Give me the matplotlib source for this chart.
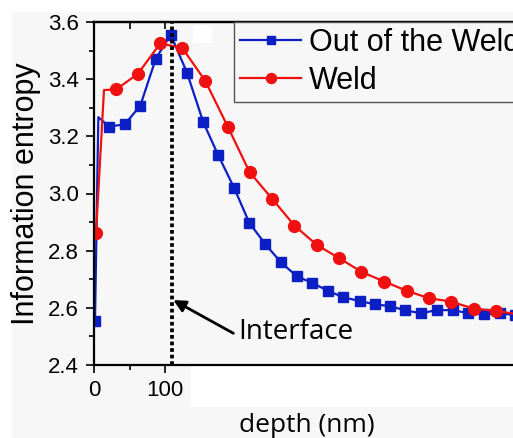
import numpy as np
import matplotlib.pyplot as plt
from matplotlib.patches import Rectangle
from matplotlib.ticker import FixedLocator

plt.rcParams["font.family"] = ["Liberation Sans", "DejaVu Sans"]

# Data (depth in nm, entropy)
depth_out = [1, 5.7, 21, 43, 65, 87, 108, 131, 154, 175, 198, 219, 242, 264, 286,
             308, 331, 352, 375, 397, 418, 440, 462, 484, 507, 529, 551, 573, 595]
entropy_out = [2.555, 3.267, 3.234, 3.242, 3.307, 3.472, 3.556, 3.423, 3.250, 3.135,
               3.018, 2.898, 2.822, 2.759, 2.711, 2.687, 2.659, 2.637, 2.624, 2.612,
               2.606, 2.591, 2.581, 2.592, 2.592, 2.581, 2.577, 2.581, 2.575]

depth_weld = [2.4, 13.7, 30.7, 61.4, 93.2, 124.5, 156.9, 188.7, 219.5, 251.6, 282.9,
              314.6, 346.1, 377.7, 409.8, 441.6, 472.7, 504.1, 536.6, 568.2, 600]
entropy_weld = [2.861, 3.362, 3.364, 3.418, 3.525, 3.509, 3.394, 3.234, 3.075, 2.981,
                2.888, 2.820, 2.774, 2.726, 2.692, 2.660, 2.634, 2.622, 2.597, 2.589,
                2.577]

interface_depth = 109.5
arrow_head = (111.7, 2.627)
arrow_tail = (196.6, 2.511)

labels = ["Out of the Weld", "Weld"]
x_ticks = [0, 100]
y_ticks = [2.4, 2.6, 2.8, 3.0, 3.2, 3.4, 3.6]

BLUE = "#0b1fc4"
RED = "#f01010"
BG = "#f7f7f7"

W, H = 513, 438
fig = plt.figure(figsize=(W / 100, H / 100), dpi=100)
fig.patch.set_facecolor("white")

# grey backdrop of the screenshot, with the white patches on it
fig.patches.append(Rectangle((11.7 / W, 0), 1, (H - 11.7) / H, transform=fig.transFigure,
                             facecolor=BG, edgecolor="none", zorder=-2))
fig.patches.append(Rectangle((191 / W, (H - 407) / H), 1, 42 / H, transform=fig.transFigure,
                             facecolor="white", edgecolor="none", zorder=-1))

left, right, top, bottom = 94.3, 513, 22, 365
ax = fig.add_axes([left / W, (H - bottom) / H, (right - left) / W, (bottom - top) / H])
ax.set_facecolor(BG)
ax.set_zorder(1)

ax.plot(depth_out, entropy_out, color=BLUE, lw=1.6, marker="s", ms=7.5,
        markevery=[0] + list(range(2, len(depth_out))), label=labels[0])
ax.plot(depth_weld, entropy_weld, color=RED, lw=1.6, marker="o", ms=8.5,
        markevery=[0] + list(range(2, len(depth_weld))), label=labels[1])

ax.axvline(interface_depth, color="black", lw=2.7, linestyle=(0, (1, 0.75)),
           dash_capstyle="butt", zorder=3)

ax.annotate("", xy=arrow_head, xytext=arrow_tail,
            arrowprops=dict(arrowstyle="-|>", color="black", lw=2, mutation_scale=18,
                            shrinkA=0, shrinkB=0))
ax.text(203.7, 2.517, "Interface", family="Open Sans", fontsize=20,
        ha="left", va="center")

ax.set_xlim(0, 592)
ax.set_ylim(2.4, 3.6)
ax.set_xticks(x_ticks)
ax.xaxis.set_minor_locator(FixedLocator([50]))
ax.set_yticks(y_ticks)
ax.set_yticklabels(["%.1f" % v for v in y_ticks])
ax.yaxis.set_minor_locator(FixedLocator(np.arange(2.5, 3.6, 0.2)))

ax.tick_params(which="major", length=6, width=1.2, pad=5, direction="out", labelsize=16)
ax.tick_params(which="minor", length=3.5, width=1.2, direction="out")

# top axis only has the inward ticks at 50 and 100
top_ax = ax.secondary_xaxis("top")
top_ax.set_xticks([50, 100])
top_ax.set_xticklabels([])
top_ax.tick_params(direction="in", length=5, width=1.2)
top_ax.spines["top"].set_linewidth(1.6)

ax.spines["right"].set_visible(False)
ax.spines["top"].set_linewidth(1.6)
ax.spines["left"].set_linewidth(1.6)
ax.spines["bottom"].set_linewidth(1.6)

ax.set_ylabel("Information entropy", fontsize=22, labelpad=5)
fig.text(307 / W, (H - 425) / H, "depth (nm)", family="Open Sans", fontsize=19,
         ha="center", va="center")

leg = ax.legend(loc="upper left", bbox_to_anchor=((234.3 - left) / (right - left), 1.0),
                prop={"size": 22}, frameon=True, fancybox=False,
                borderaxespad=0, borderpad=0.2, handlelength=1.98, handletextpad=0.25,
                labelspacing=0.26, markerscale=0.85)
leg.get_frame().set_facecolor(BG)
leg.get_frame().set_edgecolor("#555555")
leg.get_frame().set_linewidth(1.0)
leg.get_frame().set_alpha(1)

# small white patch near the top spine, drawn above the plot
ax.add_patch(Rectangle((193 / W, (H - 43) / H), 19 / W, 18 / H, transform=fig.transFigure,
                       facecolor="white", edgecolor="none", zorder=10, clip_on=False))

fig.savefig("out.png", dpi=100)
